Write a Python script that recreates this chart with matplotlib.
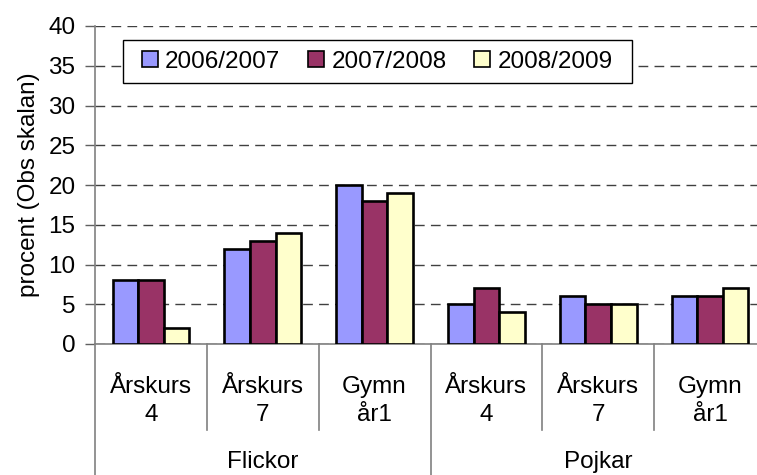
import matplotlib
matplotlib.use("Agg")
import matplotlib.pyplot as plt
import numpy as np
from matplotlib.lines import Line2D
from matplotlib.patches import Rectangle
import matplotlib.transforms as mtrans

plt.rcParams['font.family'] = ['Liberation Sans', 'DejaVu Sans']

groups = ["Flickor", "Pojkar"]
subcats = ["Årskurs\n4", "Årskurs\n7", "Gymn\når1"]
series = ["2006/2007", "2007/2008", "2008/2009"]
v2006 = [8, 12, 20, 5, 6, 6]
v2007 = [8, 13, 18, 7, 5, 6]
v2008 = [2, 14, 19, 4, 5, 7]
colors = ["#9999FF", "#993366", "#FFFFCC"]
yticks = [0, 5, 10, 15, 20, 25, 30, 35, 40]

FS = 17.5
W, H = 757, 475
fig = plt.figure(figsize=(W / 100, H / 100), dpi=100)
left, right, top, bottom = 95, 766, 26, 344
ax = fig.add_axes([left / W, 1 - bottom / H, (right - left) / W, (bottom - top) / H])

n = len(v2006)
x = np.arange(n)
bw = 0.229
for i, (vals, c, lab) in enumerate(zip([v2006, v2007, v2008], colors, series)):
    ax.bar(x + (i - 1) * bw, vals, width=bw, color=c, edgecolor="black",
           linewidth=1.9, label=lab, zorder=3)

ax.set_xlim(-0.5, n - 0.5)
ax.set_ylim(0, 40)
ax.set_yticks(yticks)
ax.yaxis.grid(True, linestyle=(0, (7, 4.5)), color="#404040", linewidth=1.0, zorder=0)
ax.set_axisbelow(True)
ax.tick_params(axis="y", labelsize=FS, length=7, width=1, color="#606060", pad=7)
ax.set_xticks([])
for s in ["top", "right"]:
    ax.spines[s].set_visible(False)
ax.spines["left"].set_color("#808080")
ax.spines["bottom"].set_color("#808080")
ax.spines["left"].set_linewidth(1.2)
ax.spines["bottom"].set_linewidth(1.2)
ax.set_ylabel("procent (Obs skalan)", fontsize=FS, labelpad=6)

# multi-level category axis
trans = mtrans.blended_transform_factory(ax.transData, fig.transFigure)
y0 = 1 - bottom / H
y_inner = 1 - 430 / H
for k in range(n + 1):
    xb = k - 0.5
    ybot = 0 if k % 3 == 0 else y_inner
    ax.add_line(Line2D([xb, xb], [y0, ybot], transform=trans, color="#808080",
                       linewidth=1.2, clip_on=False))
for k in range(n):
    fig.text(k, 1 - 401 / H, subcats[k % 3], transform=trans, ha="center", va="center",
             fontsize=FS, linespacing=1.4)
for g, name in enumerate(groups):
    fig.text(g * 3 + 1, 1 - 462 / H, name, transform=trans, ha="center", va="center",
             fontsize=FS)

# legend box
box = Rectangle((123 / W, 1 - 83 / H), (632 - 123) / W, 43 / H, transform=fig.transFigure,
                facecolor="white", edgecolor="black", linewidth=1.0, zorder=4)
ax.add_patch(box)
box.set_clip_on(False)
leg = ax.legend(loc="center left", bbox_to_anchor=(142 / W, 1 - 61.5 / H),
                bbox_transform=fig.transFigure,
                ncol=3, fontsize=FS, frameon=False,
                handlelength=0.65, handleheight=0.65, handletextpad=0.3, columnspacing=1.15,
                borderpad=0, borderaxespad=0)
leg.set_zorder(5)
for h in leg.legend_handles:
    h.set_linewidth(1.2)

fig.savefig("out.png", dpi=100)
